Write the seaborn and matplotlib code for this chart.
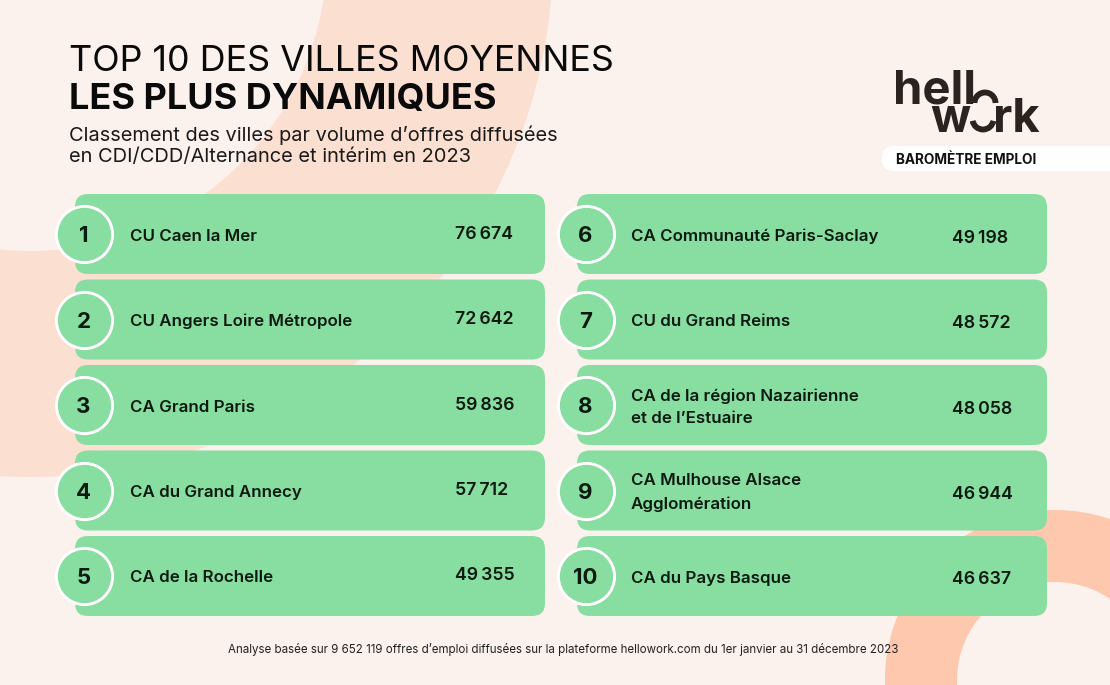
import numpy as np
import pandas as pd
import matplotlib.pyplot as plt
from matplotlib.patches import Circle, FancyBboxPatch, Arc
import seaborn as sns

sns.set_style('white')
plt.rcParams['font.family'] = ['Inter', 'DejaVu Sans']

ranks = [1, 2, 3, 4, 5, 6, 7, 8, 9, 10]
cities = ['CU Caen la Mer', 'CU Angers Loire Métropole', 'CA Grand Paris', 'CA du Grand Annecy',
          'CA de la Rochelle', 'CA Communauté Paris-Saclay', 'CU du Grand Reims',
          'CA de la région Nazairienne\net de l’Estuaire', 'CA Mulhouse Alsace\nAgglomération',
          'CA du Pays Basque']
offers = ['76\u2009674', '72\u2009642', '59\u2009836', '57\u2009712', '49\u2009355',
          '49\u2009198', '48\u2009572', '48\u2009058', '46\u2009944', '46\u2009637']

BG = '#FBF1ED'
PEACH_L = '#FBDFD1'
PEACH_D = '#FDC8AE'
GREEN = '#88DDA0'
INK = '#0B1A10'

fig = plt.figure(figsize=(11.10, 6.85), dpi=100, facecolor=BG)
ax = fig.add_axes([0, 0, 1, 1])
ax.set_xlim(0, 1110)
ax.set_ylim(685, 0)
ax.axis('off')

# background rings
ax.add_patch(Circle((30, -46), 523, fc=PEACH_L, ec='none', zorder=1))
ax.add_patch(Circle((30, -46), 297, fc=BG, ec='none', zorder=1.1))
ax.add_patch(Circle((1055, 680), 170, fc=PEACH_D, ec='none', zorder=1))
ax.add_patch(Circle((1055, 680), 98, fc=BG, ec='none', zorder=1.1))

# cards, five per column
df = pd.DataFrame({'rank': ranks, 'city': cities, 'offers': offers})
df['col'] = (df['rank'] - 1) // 5
df['row'] = (df['rank'] - 1) % 5
df['cy'] = 234 + df['row'] * 85.5
df['cx'] = 75 + df['col'] * 502

for _, r in df.iterrows():
    ax.add_patch(FancyBboxPatch((r['cx'], r['cy'] - 40), 470, 80,
                                boxstyle='round,pad=0,rounding_size=13',
                                fc=GREEN, ec='none', zorder=2))

df['bx'] = df['cx'] + 9
sns.scatterplot(data=df, x='bx', y='cy', s=1640, color=GREEN, edgecolor='white',
                linewidth=2.1, ax=ax, zorder=3, legend=False, clip_on=False)
ax.set_xlim(0, 1110)
ax.set_ylim(685, 0)
ax.axis('off')

for _, r in df.iterrows():
    ax.text(r['bx'] - 0.5, r['cy'] + 2, str(r['rank']), fontsize=16, fontweight='bold', color=INK,
            ha='center', va='center', zorder=4)
    ax.text(r['cx'] + 55 - r['col'], r['cy'] + 2, r['city'], fontsize=12.2, fontweight='semibold', color=INK,
            ha='left', va='center', linespacing=1.62, zorder=4)
    dy = 0 if r['col'] == 0 else 4
    ax.text(r['cx'] + 380 - r['col'] * 5, r['cy'] + dy, r['offers'], fontsize=12.8, fontweight='semibold',
            color=INK, ha='left', va='center', zorder=4)

# header
ax.text(69, 61, 'TOP 10 DES VILLES MOYENNES', fontsize=25.8, color='#0A0A0A', va='center', ha='left', zorder=5)
ax.text(69, 99, 'LES PLUS DYNAMIQUES', fontsize=26, fontweight='bold', color='#0A0A0A', va='center', ha='left', zorder=5)
ax.text(69, 135, 'Classement des villes par volume d’offres diffusées', fontsize=14.4, color='#1A1A1A', va='center', ha='left', zorder=5)
ax.text(69, 157, 'en CDI/CDD/Alternance et intérim en 2023', fontsize=14.4, color='#1A1A1A', va='center', ha='left', zorder=5)
ax.text(563.5, 649, 'Analyse basée sur 9 652 119 offres d’emploi diffusées sur la plateforme hellowork.com du 1er janvier au 31 décembre 2023',
        fontsize=8.3, color='#222222', va='center', ha='center', zorder=5)

# logo and pill
LOGO = '#2A2320'
ax.text(893, 103, 'hell', fontsize=34, fontweight='bold', color=LOGO, va='baseline', ha='left', zorder=5)
ax.text(930, 132, 'w', fontsize=34, fontweight='bold', color=LOGO, va='baseline', ha='left', zorder=5)
ax.text(993, 132, 'rk', fontsize=34, fontweight='bold', color=LOGO, va='baseline', ha='left', zorder=5)
ax.add_patch(Arc((985, 103), 21, 21, theta1=180, theta2=360, lw=4.2, color=LOGO, zorder=5))
ax.add_patch(Arc((983, 119), 21, 21, theta1=10, theta2=170, lw=4.2, color=LOGO, zorder=5))
ax.add_patch(FancyBboxPatch((882, 146), 300, 25, boxstyle='round,pad=0,rounding_size=12',
                            fc='white', ec='none', zorder=2))
ax.text(896, 159.5, 'BAROMÈTRE EMPLOI', fontsize=9.8, fontweight='bold', color='#111111', va='center', ha='left', zorder=5)

fig.savefig('out.png', dpi=100, facecolor=BG)
